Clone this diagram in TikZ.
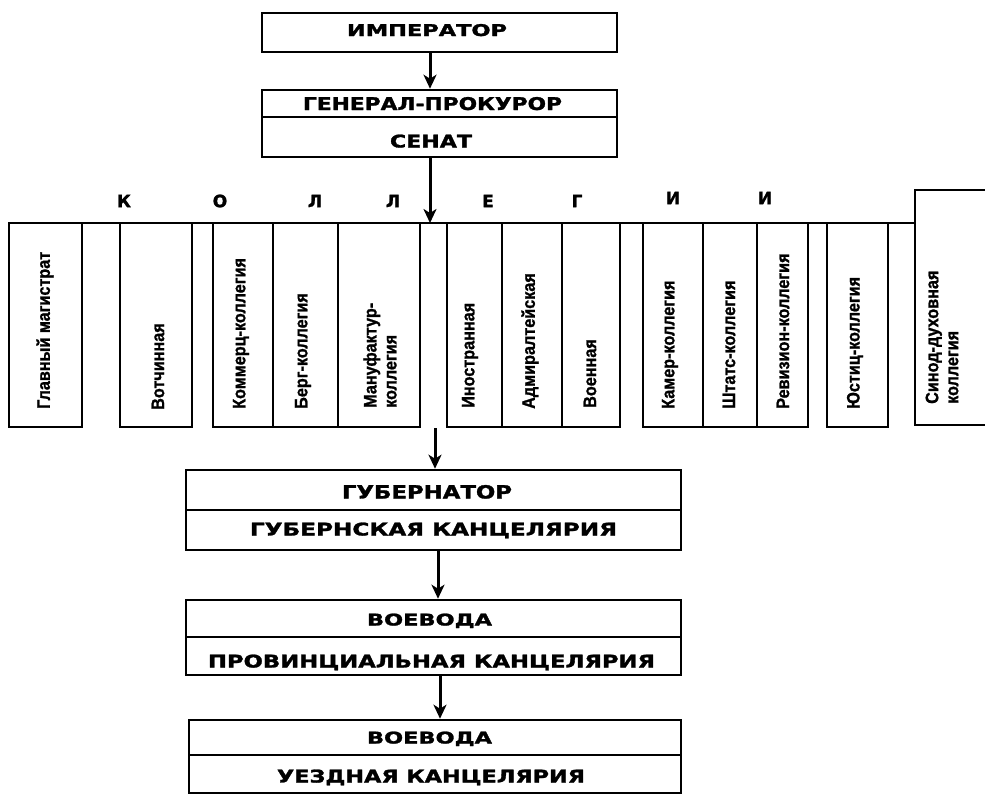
\documentclass[tikz,border=0pt]{standalone}
\usepackage{fontspec}
\newfontfamily\hfont{DejaVu Sans}[FakeBold=1.5]
\newfontfamily\cfont{Liberation Sans}[FakeStretch=0.9,FakeBold=1.2]
\usetikzlibrary{arrows.meta}
\newcommand\hdtext[3]{\resizebox{#1pt}{#2pt}{\hfont\bfseries #3}}
\begin{document}
\begin{tikzpicture}[x=1pt,y=-1pt,
  frame/.style={draw=black, line width=2.6pt, inner sep=0pt},
  hd/.style={inner sep=0pt, anchor=base},
  col/.style={rotate=90, anchor=west, inner sep=0pt, align=left,
    font=\cfont\bfseries\fontsize{18}{20}\selectfont},
  letter/.style={inner sep=0pt, font=\hfont\bfseries\fontsize{17}{17}\selectfont},
  arr/.style={line width=3pt, -{Stealth[length=14pt,width=13pt,inset=4pt]}}]
\clip (0,0) rectangle (985,796);
\fill[white] (0,0) rectangle (985,796);
% top boxes
\node[frame, minimum width=355pt, minimum height=39pt] (imp) at (439.5,32.5) {};
\node[frame, minimum width=355pt, minimum height=27pt] (gen) at (439.5,103.5) {};
\node[frame, minimum width=355pt, minimum height=40pt] (sen) at (439.5,137) {};
\node[hd] (imp-t) at (427,36) {\hdtext{160}{12}{ИМПЕРАТОР}};
\node[hd] (gen-t) at (432.5,110) {\hdtext{259}{13}{ГЕНЕРАЛ-ПРОКУРОР}};
\node[hd] (sen-t) at (431,147.5) {\hdtext{82}{13}{СЕНАТ}};
% bar of colleges
\coordinate (barL) at (9,223);
\coordinate (barR) at (915,223);
\coordinate (hub) at (430,223);
% colleges
\node[frame, minimum width=73pt, minimum height=204pt] (c1) at (45.5,325) {};
\node[frame, minimum width=72pt, minimum height=204pt] (c2) at (156,325) {};
\node[frame, minimum width=60pt, minimum height=204pt] (c3) at (243,325) {};
\node[frame, minimum width=65pt, minimum height=204pt] (c4) at (305.5,325) {};
\node[frame, minimum width=82pt, minimum height=204pt] (c5) at (379,325) {};
\node[frame, minimum width=55pt, minimum height=204pt] (c6) at (474.5,325) {};
\node[frame, minimum width=60pt, minimum height=204pt] (c7) at (532,325) {};
\node[frame, minimum width=58pt, minimum height=204pt] (c8) at (591,325) {};
\node[frame, minimum width=60pt, minimum height=204pt] (c9) at (673,325) {};
\node[frame, minimum width=54pt, minimum height=204pt] (c10) at (730,325) {};
\node[frame, minimum width=51pt, minimum height=204pt] (c11) at (782.5,325) {};
\node[frame, minimum width=61pt, minimum height=204pt] (c12) at (857.5,325) {};
\node[frame, minimum width=90pt, minimum height=235pt] (c13) at (960,307.5) {};
\draw[line width=2.6pt] (barL) -- (barR);
\node[col] (t1) at (45,409) {Главный магистрат};
\node[col] (t2) at (158,410) {Вотчинная};
\node[col] (t3) at (241,409) {Коммерц-коллегия};
\node[col] (t4) at (303,409) {Берг-коллегия};
\node[col] (t5) at (380,408) {Мануфактур-\\коллегия};
\node[col] (t6) at (470,408) {Иностранная};
\node[col] (t7) at (530,409) {Адмиралтейская};
\node[col] (t8) at (590,408) {Военная};
\node[col] (t9) at (670,409) {Камер-коллегия};
\node[col] (t10) at (729,409) {Штатс-коллегия};
\node[col] (t11) at (783,409) {Ревизион-коллегия};
\node[col] (t12) at (855,409) {Юстиц-коллегия};
\node[col] (t13) at (942,404) {Синод-духовная\\коллегия};
% letters
\node[letter] (l1) at (124,201) {К};
\node[letter] (l2) at (220,201) {О};
\node[letter] (l3) at (315,201) {Л};
\node[letter] (l4) at (393,201) {Л};
\node[letter] (l5) at (488,201) {Е};
\node[letter] (l6) at (577,201) {Г};
\node[letter] (l7) at (673,198) {И};
\node[letter] (l8) at (765,198) {И};
% lower boxes
\node[frame, minimum width=495pt, minimum height=40pt] (gub) at (433.5,490) {};
\node[frame, minimum width=495pt, minimum height=40pt] (gubk) at (433.5,530) {};
\node[frame, minimum width=495pt, minimum height=37pt] (voe1) at (433.5,618.5) {};
\node[frame, minimum width=495pt, minimum height=38pt] (prov) at (433.5,656) {};
\node[frame, minimum width=492pt, minimum height=35pt] (voe2) at (435,737.5) {};
\node[frame, minimum width=492pt, minimum height=38pt] (uezd) at (435,774) {};
\node[hd] (gub-t) at (427,498.5) {\hdtext{170}{13.5}{ГУБЕРНАТОР}};
\node[hd] (gubk-t) at (433.5,535.5) {\hdtext{367}{13}{ГУБЕРНСКАЯ КАНЦЕЛЯРИЯ}};
\node[hd] (voe1-t) at (429.5,625.5) {\hdtext{125}{12}{ВОЕВОДА}};
\node[hd] (prov-t) at (431.5,667.5) {\hdtext{447}{13}{ПРОВИНЦИАЛЬНАЯ КАНЦЕЛЯРИЯ}};
\node[hd] (voe2-t) at (429.5,743.5) {\hdtext{125}{12}{ВОЕВОДА}};
\node[hd] (uezd-t) at (431,782.5) {\hdtext{308}{13}{УЕЗДНАЯ КАНЦЕЛЯРИЯ}};
% arrows
\coordinate (ax1) at (430,0);
\coordinate (ax4) at (438,0);
\coordinate (ax5) at (440,0);
\coordinate (gap) at (435,428);
\draw[arr] (imp.south -| ax1) -- (gen.north -| ax1);
\draw[arr] (sen.south -| hub) -- (hub);
\draw[arr] (gap) -- (gap |- gub.north);
\draw[arr] (gubk.south -| ax4) -- (voe1.north -| ax4);
\draw[arr] (prov.south -| ax5) -- (voe2.north -| ax5);
\end{tikzpicture}
\end{document}
